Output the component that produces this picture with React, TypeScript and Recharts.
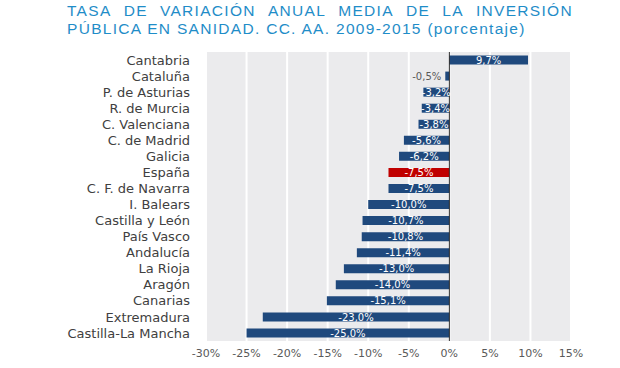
// Average annual change in public health investment by region, 2009-2015
import React from 'react';
import {
    BarChart,
    Bar,
    XAxis,
    YAxis,
    CartesianGrid,
    ReferenceLine,
    LabelList,
    Cell
} from 'recharts';

const regions = [
    'Cantabria', 'Cataluña', 'P. de Asturias', 'R. de Murcia', 'C. Valenciana',
    'C. de Madrid', 'Galicia', 'España', 'C. F. de Navarra', 'I. Balears',
    'Castilla y León', 'País Vasco', 'Andalucía', 'La Rioja', 'Aragón',
    'Canarias', 'Extremadura', 'Castilla-La Mancha'
];
const rates = [
    9.7, -0.5, -3.2, -3.4, -3.8, -5.6, -6.2, -7.5, -7.5, -10.0,
    -10.7, -10.8, -11.4, -13.0, -14.0, -15.1, -23.0, -25.0
];
const xTicks = [-30, -25, -20, -15, -10, -5, 0, 5, 10, 15];
const highlight = 'España';
const titleLine1 = ['TASA', 'DE', 'VARIACIÓN', 'ANUAL', 'MEDIA', 'DE', 'LA', 'INVERSIÓN'];
const titleLine2 = 'PÚBLICA EN SANIDAD. CC. AA. 2009-2015 (porcentaje)';

const data = regions.map((region, i) => ({ region, rate: rates[i] }));

const fmt = (v: number) => `${v.toFixed(1).replace('.', ',')}%`;

const BarLabel = (props: any) => {
    const { x, y, width, height, value } = props;
    const left = Math.min(x, x + width);
    const w = Math.abs(width);
    const cy = y + height / 2;
    // tiny bars get the label outside, in grey
    if (w < 10) {
        return (
            <text x={left - 4} y={cy} dy="0.36em" textAnchor="end"
                fill="#595959" fontSize={10} fontFamily="DejaVu Sans">
                {fmt(value)}
            </text>
        );
    }
    return (
        <text x={left + w / 2} y={cy} dy="0.36em" textAnchor="middle"
            fill="#ffffff" fontSize={10} fontFamily="DejaVu Sans">
            {fmt(value)}
        </text>
    );
};

const titleStyle: React.CSSProperties = {
    color: '#1f8dc8',
    fontFamily: '"Liberation Sans", sans-serif',
    fontSize: 15.5,
    lineHeight: '18px',
    letterSpacing: 1.3,
    whiteSpace: 'nowrap'
};

const App: React.FC = () => {
    return (
        <div style={{ position: 'fixed', left: 0, top: 0, width: 620, height: 368, background: '#fff' }}>
            <div style={{ position: 'absolute', left: 67, top: 2, width: 506 }}>
                <div style={{ ...titleStyle, display: 'flex', justifyContent: 'space-between' }}>
                    {titleLine1.map((w, i) => (
                        <span key={i}>{w}</span>
                    ))}
                </div>
                <div style={titleStyle}>{titleLine2}</div>
            </div>
            <BarChart
                width={620}
                height={368}
                data={data}
                layout="vertical"
                barCategoryGap="22%"
                margin={{ top: 52, right: 49, bottom: 7, left: 0 }}
            >
                <CartesianGrid horizontal={false} stroke="#ffffff" strokeWidth={2} fill="#ebebed" />
                <XAxis
                    type="number"
                    domain={[-30, 15]}
                    ticks={xTicks}
                    tickFormatter={(v) => `${v}%`}
                    axisLine={false}
                    tickLine={false}
                    tickSize={0}
                    tickMargin={8}
                    height={20}
                    tick={{ fill: '#595959', fontSize: 11, fontFamily: 'DejaVu Sans' }}
                />
                <YAxis
                    type="category"
                    dataKey="region"
                    width={206}
                    axisLine={false}
                    tickLine={false}
                    tickSize={0}
                    tickMargin={16}
                    interval={0}
                    tick={{ fill: '#404040', fontSize: 13, fontFamily: 'DejaVu Sans' }}
                />
                <ReferenceLine x={0} stroke="#262626" strokeWidth={1} />
                <Bar dataKey="rate" isAnimationActive={false}>
                    {data.map((d) => (
                        <Cell key={d.region} fill={d.region === highlight ? '#c00000' : '#1f497d'} />
                    ))}
                    <LabelList dataKey="rate" content={BarLabel} />
                </Bar>
            </BarChart>
        </div>
    );
};

export default App;
